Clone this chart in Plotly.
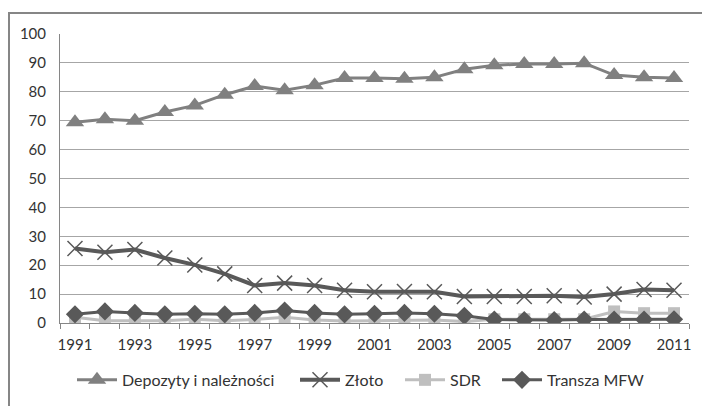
import plotly.graph_objects as go

years = list(range(1991, 2012))
depozyty = [69.5, 70.5, 70.0, 73.0, 75.3, 79.0, 82.0, 80.5, 82.3, 84.8, 84.8, 84.5, 85.0, 87.8, 89.2, 89.6, 89.6, 89.9, 85.8, 85.0, 84.8]
zloto = [25.8, 24.5, 25.4, 22.5, 20.1, 17.0, 13.0, 13.8, 13.0, 11.3, 10.8, 10.9, 10.8, 9.2, 9.2, 9.2, 9.4, 9.0, 10.0, 11.6, 11.3]
sdr = [2.0, 0.8, 0.8, 0.8, 1.3, 0.8, 1.2, 2.0, 1.0, 0.7, 0.8, 0.8, 1.0, 0.5, 1.3, 1.3, 1.3, 1.3, 4.0, 3.4, 3.4]
transza = [3.0, 4.0, 3.5, 3.0, 3.2, 3.0, 3.5, 4.3, 3.5, 3.0, 3.2, 3.5, 3.2, 2.5, 1.2, 1.0, 1.0, 1.2, 1.2, 1.2, 1.3]
ytick_vals = list(range(0, 101, 10))
xtick_vals = list(range(1991, 2012, 2))

FONT = "Lato, Carlito, Liberation Sans, sans-serif"

fig = go.Figure()
fig.add_trace(go.Scatter(x=years, y=depozyty, name="Depozyty i należności", mode="lines+markers",
                         line=dict(color="#808080", width=3), legend="legend",
                         marker=dict(symbol="triangle-up", size=16, color="#808080")))
fig.add_trace(go.Scatter(x=years, y=zloto, name="Złoto", mode="lines+markers",
                         line=dict(color="#595959", width=4), legend="legend2",
                         marker=dict(symbol="x-thin", size=15, color="#595959",
                                     line=dict(color="#595959", width=1.5))))
fig.add_trace(go.Scatter(x=years, y=sdr, name="SDR", mode="lines+markers",
                         line=dict(color="#BFBFBF", width=3), legend="legend3",
                         marker=dict(symbol="square", size=12, color="#BFBFBF")))
fig.add_trace(go.Scatter(x=years, y=transza, name="Transza MFW", mode="lines+markers",
                         line=dict(color="#595959", width=3), legend="legend4",
                         marker=dict(symbol="diamond", size=14, color="#595959")))

def leg(px):
    return dict(orientation="h", x=(px - 60) / 629, xanchor="left", y=-0.197, yanchor="middle",
                font=dict(size=16), itemwidth=40, bgcolor="rgba(0,0,0,0)")

fig.update_layout(
    width=702, height=406,
    margin=dict(l=60, r=13, t=34, b=83, autoexpand=False),
    paper_bgcolor="white", plot_bgcolor="white",
    font=dict(family=FONT, size=15, color="#333333"),
    showlegend=True,
    legend=leg(72), legend2=leg(295), legend3=leg(400), legend4=leg(497),
    xaxis=dict(range=[1990.5, 2011.5], tickvals=xtick_vals, ticktext=[str(v) for v in xtick_vals],
               showgrid=False, zeroline=False, showline=True, linecolor="#868686", linewidth=1,
               ticks="", tickfont=dict(size=15), automargin=False, ticklabelstandoff=8,
               minor=dict(ticks="outside", ticklen=5, tickcolor="#868686", tick0=1990.5, dtick=1,
                          showgrid=False)),
    yaxis=dict(range=[0, 100], tickvals=ytick_vals, showgrid=True, gridcolor="#A6A6A6", gridwidth=1,
               zeroline=False, showline=True, linecolor="#868686", linewidth=1, automargin=False,
               ticks="", tickfont=dict(size=15), ticklabelstandoff=10),
    shapes=[dict(type="rect", xref="paper", yref="paper",
                 x0=(9 - 60) / 629, x1=1.1, y0=-0.35, y1=(323 - 13) / 289,
                 line=dict(color="#868686", width=2), fillcolor="rgba(0,0,0,0)", layer="below")],
)

fig.write_html("out.html", config={"displayModeBar": False},
               post_script="document.body.style.margin='0';document.body.style.overflow='hidden';")
